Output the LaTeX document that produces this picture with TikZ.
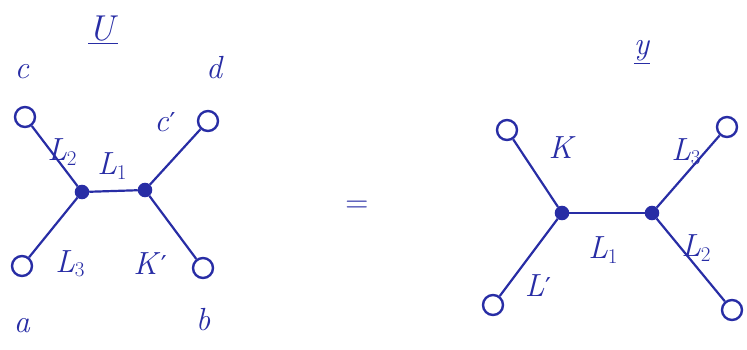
\documentclass[tikz,border=0pt]{standalone}
\usepackage{fontspec}
\usepackage{tikz}
\newfontfamily\djv{DejaVu Sans}
\newcommand{\lsub}[2]{\textit{#1}\raisebox{-0.3ex}{\fontsize{21}{22}\selectfont #2}}
\newcommand{\pr}{\kern0.5pt{\djv\fontsize{26}{26}\selectfont ′}}
\begin{document}
\begin{tikzpicture}[x=1pt,y=-1pt,
  ink/.style={color={rgb,255:red,40;green,45;blue,165}},
  leaf/.style={ink, circle, draw, line width=2.4pt, minimum size=20pt, inner sep=0pt},
  hub/.style={ink, circle, draw, fill, line width=1.5pt, minimum size=13pt, inner sep=0pt},
  edge/.style={ink, line width=2.2pt},
  lbl/.style={ink, font=\fontsize{32}{34}\selectfont, inner sep=0pt}]
\useasboundingbox (0,0) rectangle (747,349);
% left diagram
\node[leaf] (lc) at (25,117) {};
\node[leaf] (ld) at (208,121) {};
\node[leaf] (la) at (22,266) {};
\node[leaf] (lb) at (203,268) {};
\node[hub] (lh1) at (82,192) {};
\node[hub] (lh2) at (145,190) {};
\draw[edge] (lc) -- (lh1);
\draw[edge] (la) -- (lh1);
\draw[edge] (lh1) -- (lh2);
\draw[edge] (ld) -- (lh2);
\draw[edge] (lb) -- (lh2);
\node[lbl, font=\fontsize{36}{38}\selectfont] (tU) at (103,30) {\underline{\textit{U}}};
\node[lbl] (tc) at (22,72) {\textit{c}};
\node[lbl] (td) at (215,68) {\textit{d}};
\node[lbl] (ta) at (22,326) {\textit{a}};
\node[lbl] (tb) at (203,320) {\textit{b}};
\node[lbl] (tL2) at (62,152) {\lsub{L}{2}};
\node[lbl] (tL1) at (112,166) {\lsub{L}{1}};
\node[lbl] (tcp) at (165,122) {\textit{c}\pr};
\node[lbl] (tL3) at (70,264) {\lsub{L}{3}};
\node[lbl] (tKp) at (150,264) {\textit{K}\pr};
% equals
\node[lbl] (eq) at (357,207) {=};
% right diagram
\node[leaf] (rtl) at (507,130) {};
\node[leaf] (rtr) at (727,127) {};
\node[leaf] (rbl) at (493,305) {};
\node[leaf] (rbr) at (732,310) {};
\node[hub] (rh1) at (562,213) {};
\node[hub] (rh2) at (652,213) {};
\draw[edge] (rtl) -- (rh1);
\draw[edge] (rbl) -- (rh1);
\draw[edge] (rh1) -- (rh2);
\draw[edge] (rtr) -- (rh2);
\draw[edge] (rbr) -- (rh2);
\node[lbl] (ty) at (642,52) {\underline{\textit{y}}};
\node[lbl] (tK) at (562,148) {\textit{K}};
\node[lbl] (trL3) at (686,152) {\lsub{L}{3}};
\node[lbl] (trL1) at (603,250) {\lsub{L}{1}};
\node[lbl] (trL2) at (696,248) {\lsub{L}{2}};
\node[lbl] (tLp) at (538,286) {\textit{L}\pr};
\end{tikzpicture}
\end{document}
